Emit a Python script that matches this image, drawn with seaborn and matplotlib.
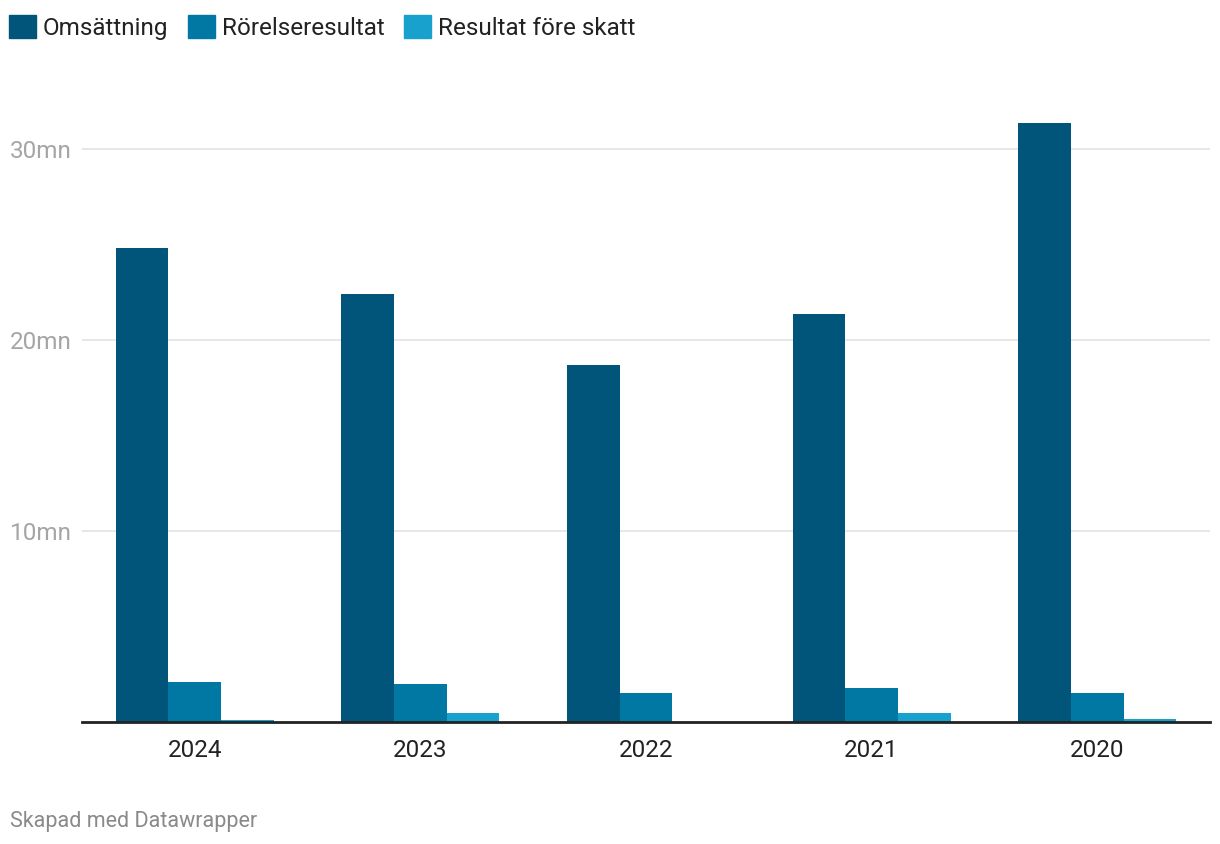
import pandas as pd
import matplotlib.pyplot as plt
import seaborn as sns

# Data (values in millions)
years = ["2024", "2023", "2022", "2021", "2020"]
omsattning = [24.8, 22.4, 18.7, 21.35, 31.35]
rorelseresultat = [2.1, 2.0, 1.5, 1.8, 1.5]
resultat_fore_skatt = [0.1, 0.47, 0.0, 0.47, 0.15]
series = ["Omsättning", "Rörelseresultat", "Resultat före skatt"]
colors = ["#01547a", "#0178a3", "#18a1cd"]
ytick_vals = [10, 20, 30]
ytick_labels = ["10mn", "20mn", "30mn"]

df = pd.DataFrame({"year": years, series[0]: omsattning,
                   series[1]: rorelseresultat, series[2]: resultat_fore_skatt})
df = df.melt(id_vars="year", var_name="serie", value_name="value")

sns.set_style("white")
plt.rcParams['font.family'] = ['Roboto', 'DejaVu Sans']

fig = plt.figure(figsize=(12.2, 8.44), dpi=100)
ax = fig.add_axes([82 / 1220, 122 / 844, 1128 / 1220, 612 / 844])

sns.barplot(data=df, x="year", y="value", hue="serie", order=years,
            hue_order=series, palette=colors, width=0.7, gap=0,
            saturation=1, linewidth=0, ax=ax, legend=False)

ax.set_xlim(-0.5, 4.5)
ax.set_ylim(0, 612 / 19.1)
ax.set_xlabel("")
ax.set_ylabel("")

# grid + baseline
ax.set_yticks(ytick_vals)
ax.set_yticklabels(ytick_labels)
ax.yaxis.grid(True, color="#e3e3e3", linewidth=1.2)
ax.set_axisbelow(True)
for s in ["top", "right", "left"]:
    ax.spines[s].set_visible(False)
ax.spines["bottom"].set_color("#222222")
ax.spines["bottom"].set_linewidth(2)

ax.tick_params(axis="y", length=0, pad=52, labelsize=17.5, labelcolor="#a5a5a5")
for lbl in ax.get_yticklabels():
    lbl.set_horizontalalignment("left")
ax.tick_params(axis="x", length=0, pad=12, labelsize=17.5, labelcolor="#222222")

# legend
handles = [plt.Rectangle((0, 0), 1, 1, color=c) for c in colors]
fig.legend(handles, series, loc="upper left",
           bbox_to_anchor=(9 / 1220, 1 - 15 / 844), ncol=3, frameon=False,
           fontsize=17.5, handlelength=1.1, handleheight=1.1, handletextpad=0.3,
           columnspacing=0.8, borderpad=0, borderaxespad=0, labelcolor="#222222")

fig.text(10 / 1220, 1 - 821 / 844, "Skapad med Datawrapper", fontsize=15.5,
         color="#8a8a8a", va="center", ha="left")

plt.savefig("out.png", dpi=100)
